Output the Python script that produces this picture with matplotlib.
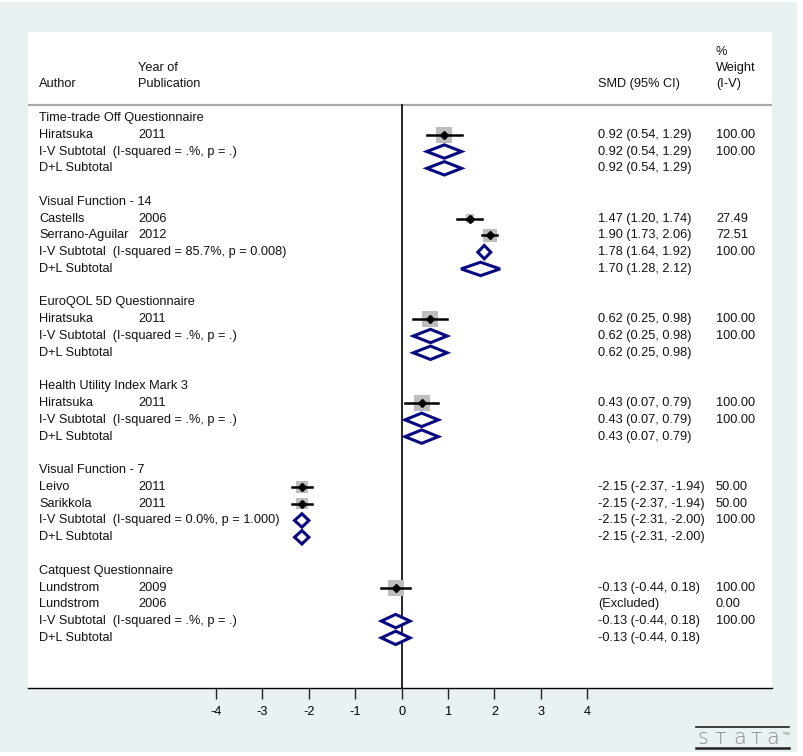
import matplotlib
matplotlib.use("Agg")
import matplotlib.pyplot as plt
from matplotlib.patches import Rectangle, Polygon

plt.rcParams['font.family'] = ['Liberation Sans', 'DejaVu Sans']

# ---------------- data ----------------
groups = ["Time-trade Off Questionnaire", "Visual Function - 14", "EuroQOL 5D Questionnaire",
          "Health Utility Index Mark 3", "Visual Function - 7", "Catquest Questionnaire"]

study_group = [0, 1, 1, 2, 3, 4, 4, 5, 5]
study_author = ["Hiratsuka", "Castells", "Serrano-Aguilar", "Hiratsuka", "Hiratsuka",
                "Leivo", "Sarikkola", "Lundstrom", "Lundstrom"]
study_year = ["2011", "2006", "2012", "2011", "2011", "2011", "2011", "2009", "2006"]
study_smd = [0.92, 1.47, 1.90, 0.62, 0.43, -2.15, -2.15, -0.13, None]
study_lo = [0.54, 1.20, 1.73, 0.25, 0.07, -2.37, -2.37, -0.44, None]
study_hi = [1.29, 1.74, 2.06, 0.98, 0.79, -1.94, -1.94, 0.18, None]
study_weight = [100.00, 27.49, 72.51, 100.00, 100.00, 50.00, 50.00, 100.00, 0.00]

iv_het = ["(I-squared = .%, p = .)", "(I-squared = 85.7%, p = 0.008)", "(I-squared = .%, p = .)",
          "(I-squared = .%, p = .)", "(I-squared = 0.0%, p = 1.000)", "(I-squared = .%, p = .)"]
iv_smd = [0.92, 1.78, 0.62, 0.43, -2.15, -0.13]
iv_lo = [0.54, 1.64, 0.25, 0.07, -2.31, -0.44]
iv_hi = [1.29, 1.92, 0.98, 0.79, -2.00, 0.18]
dl_smd = [0.92, 1.70, 0.62, 0.43, -2.15, -0.13]
dl_lo = [0.54, 1.28, 0.25, 0.07, -2.31, -0.44]
dl_hi = [1.29, 2.12, 0.98, 0.79, -2.00, 0.18]

xticks = [-4, -3, -2, -1, 0, 1, 2, 3, 4]

# ---------------- layout ----------------
W, H = 804, 756
fig = plt.figure(figsize=(W / 100, H / 100), dpi=100)
fig.patch.set_facecolor('white')
fig.add_artist(Rectangle((0, 4 / H), 797 / W, 1 - 6 / H, transform=fig.transFigure,
                         facecolor='#EAF1F3', edgecolor='none', zorder=0))

ax_l, ax_r, ax_t, ax_b = 28, 772, 32, 688
ax = fig.add_axes([ax_l / W, 1 - ax_b / H, (ax_r - ax_l) / W, (ax_b - ax_t) / H])
ax.set_facecolor('white')

x0pix, unit = 401.7, 46.4
ax.set_xlim((ax_l - x0pix) / unit, (ax_r - x0pix) / unit)
r0pix, rstep = 118, 16.77
ax.set_ylim((ax_b - r0pix) / rstep, (ax_t - r0pix) / rstep)

def px(p):
    return (p - x0pix) / unit

X_AUTH, X_YEAR, X_SMD, X_W = px(39), px(138), px(598), px(716)
FS = 9.15
TC = '#111111'

for s in ['top', 'left', 'right']:
    ax.spines[s].set_visible(False)
ax.spines['bottom'].set_linewidth(1.0)
ax.set_yticks([])
ax.set_xticks(xticks)
ax.set_xticklabels([str(t) for t in xticks], fontsize=FS)
ax.tick_params(axis='x', length=8, width=1.0, direction='out', pad=5, color='#222222')

# header
hdr = [(-3.0, X_YEAR, "Year of"), (-2.0, X_AUTH, "Author"), (-2.0, X_YEAR, "Publication"),
       (-2.0, X_SMD, "SMD (95% CI)"), (-3.95, X_W, "%"), (-3.0, X_W, "Weight"), (-2.0, X_W, "(I-V)")]
for r, x, t in hdr:
    ax.text(x, r, t, fontsize=FS, va='center', ha='left', color=TC)
ax.axhline(-0.78, color='#AAAAAA', lw=1.6)
ax.plot([0, 0], [-0.78, ax.get_ylim()[0]], color='black', lw=1.2, zorder=2)

def diamond(c, lo, hi, r, h=0.40):
    ax.add_patch(Polygon([(lo, r), (c, r - h), (hi, r), (c, r + h)], closed=True,
                         facecolor='white', edgecolor='#0A0A80', lw=2.2, zorder=4))

def ci_txt(c, lo, hi):
    return f"{c:.2f} ({lo:.2f}, {hi:.2f})"

row = 0
box_full = 16 / unit  # width in data units for 100% weight
for g, gname in enumerate(groups):
    ax.text(X_AUTH, row, gname, fontsize=FS, va='center', color=TC)
    row += 1
    for i in range(len(study_group)):
        if study_group[i] != g:
            continue
        ax.text(X_AUTH, row, study_author[i], fontsize=FS, va='center', color=TC)
        ax.text(X_YEAR, row, study_year[i], fontsize=FS, va='center', color=TC)
        if study_smd[i] is None:
            ax.text(X_SMD, row, "(Excluded)", fontsize=FS, va='center', color=TC)
        else:
            ax.text(X_SMD, row, ci_txt(study_smd[i], study_lo[i], study_hi[i]),
                    fontsize=FS, va='center', color=TC)
            side = box_full * (study_weight[i] / 100) ** 0.5
            sideh = side * unit / rstep
            ax.add_patch(Rectangle((study_smd[i] - side / 2, row - sideh / 2), side, sideh,
                                   facecolor='#BDBDBD', edgecolor='none', zorder=3))
            ax.plot([study_lo[i], study_hi[i]], [row, row], color='black', lw=1.8, zorder=4)
            ax.plot([study_smd[i]], [row], marker='D', color='black', ms=4.0, zorder=5)
        ax.text(X_W, row, f"{study_weight[i]:.2f}", fontsize=FS, va='center', color=TC)
        row += 1
    ax.text(X_AUTH, row, "I-V Subtotal  " + iv_het[g], fontsize=FS, va='center', color=TC)
    ax.text(X_SMD, row, ci_txt(iv_smd[g], iv_lo[g], iv_hi[g]), fontsize=FS, va='center', color=TC)
    ax.text(X_W, row, "100.00", fontsize=FS, va='center', color=TC)
    diamond(iv_smd[g], iv_lo[g], iv_hi[g], row)
    row += 1
    ax.text(X_AUTH, row, "D+L Subtotal", fontsize=FS, va='center', color=TC)
    ax.text(X_SMD, row, ci_txt(dl_smd[g], dl_lo[g], dl_hi[g]), fontsize=FS, va='center', color=TC)
    diamond(dl_smd[g], dl_lo[g], dl_hi[g], row)
    row += 2

# stata logo
fig.add_artist(plt.Line2D([696 / W, 789 / W], [1 - 727 / H, 1 - 727 / H], color='#222222', lw=1.2))
fig.add_artist(plt.Line2D([696 / W, 789 / W], [1 - 747.5 / H, 1 - 747.5 / H], color='#222222', lw=1.8))
logo_chars = ["s", "\u0442", "a", "\u0442", "a"]
logo_x = [703, 720, 740, 756, 773]
for ch, lx in zip(logo_chars, logo_x):
    fig.text(lx / W, 1 - 744 / H, ch, fontsize=15, color='#8A8A8A', ha='center', va='baseline',
             family=['DejaVu Sans'], fontweight=200)
fig.text(785 / W, 1 - 737 / H, "\u2122", fontsize=6, color='#8A8A8A', ha='center', va='baseline',
         family=['Liberation Sans', 'DejaVu Sans'])

fig.savefig("out.png", dpi=100, facecolor=fig.get_facecolor())
